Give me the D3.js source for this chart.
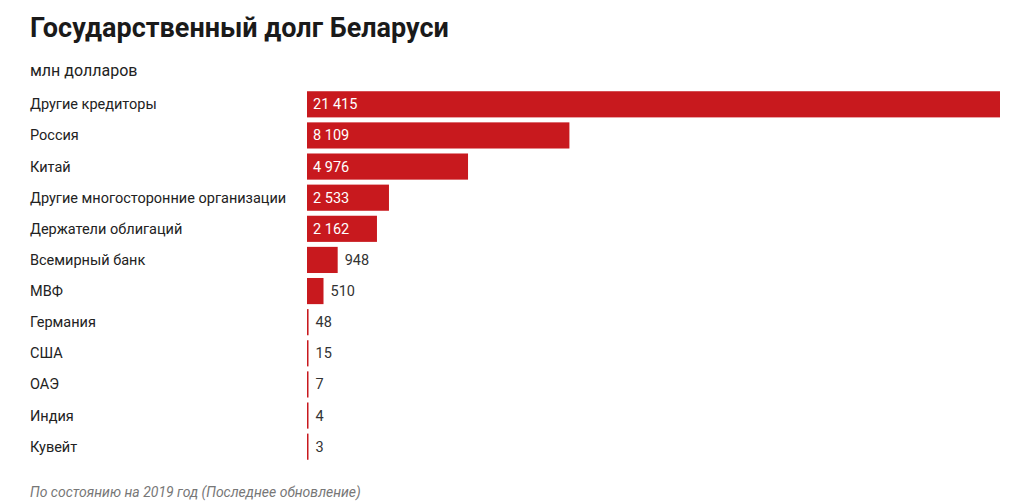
<!DOCTYPE html>
<html><head><meta charset="utf-8">
<script src="https://cdn.jsdelivr.net/npm/d3@7"></script>
<style>body{margin:0;background:#fff;font-family:Roboto,"Open Sans",sans-serif}</style>
</head><body><svg id="c" width="1024" height="502"></svg>
<script>
const categories=["Другие кредиторы","Россия","Китай","Другие многосторонние организации","Держатели облигаций","Всемирный банк","МВФ","Германия","США","ОАЭ","Индия","Кувейт"];
const values=[21415,8109,4976,2533,2162,948,510,48,15,7,4,3];
const svg=d3.select("#c");
const x=d3.scaleLinear().domain([0,21415]).range([307,1000]);
const y=d3.scaleBand().domain(categories).range([90,461]).paddingInner(0.16).paddingOuter(0.04);
const fmt=v=>d3.format(",")(v).replace(/,/g," ");
svg.append("text").attr("x",30).attr("y",37).attr("font-size",27).attr("font-weight",700).attr("fill","#1a1a1a").text("Государственный долг Беларуси");
svg.append("text").attr("x",30).attr("y",76).attr("font-size",16).attr("fill","#222").text("млн долларов");
const g=svg.selectAll("g.r").data(categories).join("g");
g.append("text").attr("x",30).attr("y",d=>y(d)+y.bandwidth()/2+5).attr("font-size",14.5).attr("fill","#222").text(d=>d);
g.append("rect").attr("x",x(0)).attr("y",d=>y(d)).attr("height",y.bandwidth())
 .attr("width",(d,i)=>Math.max(1.5,x(values[i])-x(0))).attr("fill","#c8191e");
g.append("text").attr("font-size",14.5).attr("y",d=>y(d)+y.bandwidth()/2+5)
 .attr("x",(d,i)=>{const w=x(values[i])-x(0);return w>60?x(0)+6:x(0)+Math.max(1.5,w)+7;})
 .attr("fill",(d,i)=>x(values[i])-x(0)>60?"#fff":"#333")
 .text((d,i)=>fmt(values[i]));
svg.append("text").attr("x",30).attr("y",497).attr("font-size",14).attr("font-style","italic").attr("fill","#777").text("По состоянию на 2019 год (Последнее обновление)");
</script></body></html>
